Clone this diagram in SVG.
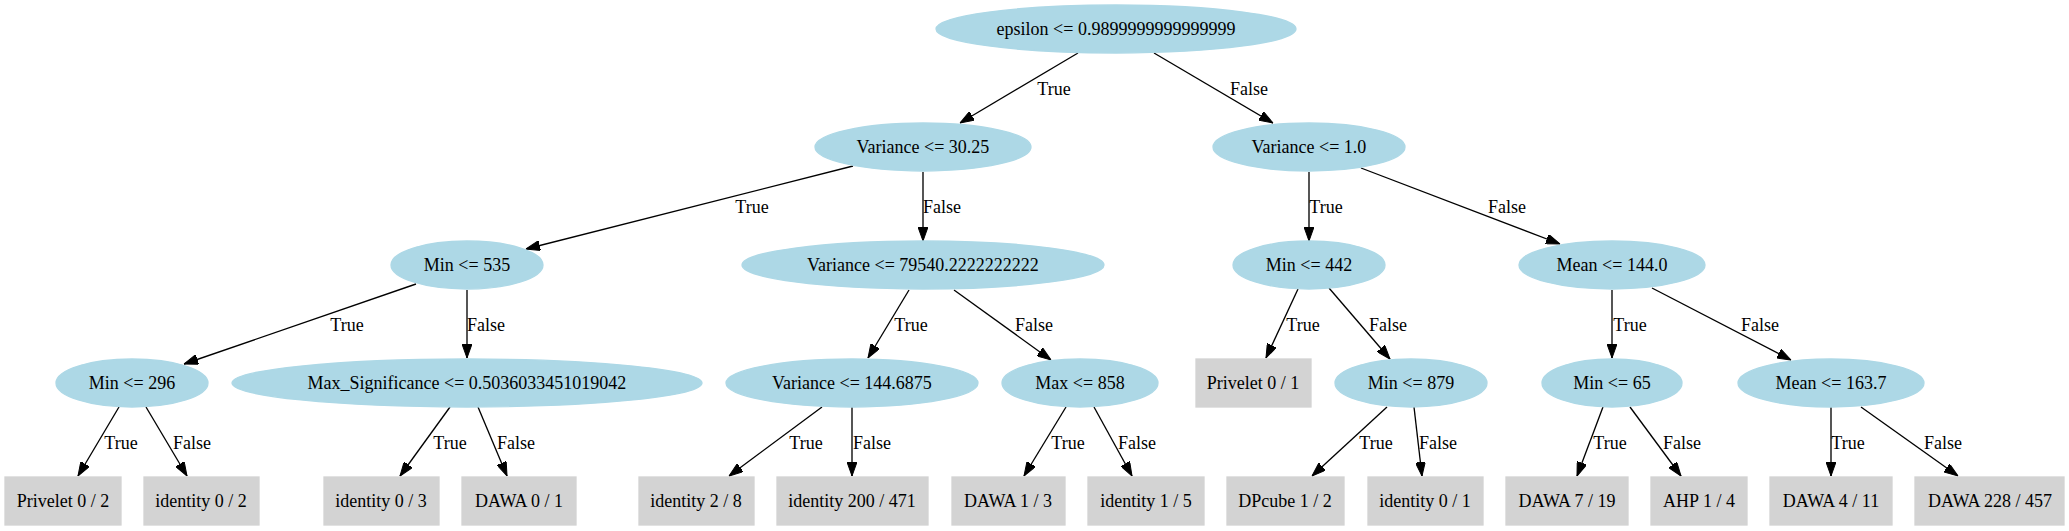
<svg xmlns="http://www.w3.org/2000/svg" width="2069" height="531" viewBox="0 0 2069 531">
<style>
.n ellipse{fill:#add8e6;stroke:#add8e6;stroke-width:1.3}
.n rect{fill:#d3d3d3;stroke:#d3d3d3;stroke-width:1.3}
text{font-family:"Liberation Serif","Times New Roman",serif;font-size:18px;fill:#000;text-anchor:middle}
.e path{fill:none;stroke:#000;stroke-width:1.33;marker-end:url(#ah)}
</style>
<defs>
<marker id="ah" markerUnits="userSpaceOnUse" viewBox="0 0 14 10" refX="14" refY="5" markerWidth="14" markerHeight="10" orient="auto">
<path d="M0,0 L14,5 L0,10 z" fill="#000" stroke="#000" stroke-width="1"/>
</marker>
</defs>
<rect width="2069" height="531" fill="#fff"/>
<g id="edges" class="e">
<path d="M1078,53 L960,123"/>
<path d="M1154,53 L1273,123"/>
<path d="M853,166 L526,249"/>
<path d="M923,172 L923,241"/>
<path d="M1309,172 L1309,241"/>
<path d="M1361,168 L1560,244"/>
<path d="M416,284 L184,364"/>
<path d="M467,290 L467,358"/>
<path d="M909,290 L868,358"/>
<path d="M954,290 L1051,360"/>
<path d="M1298,289 L1266,358"/>
<path d="M1329,288 L1390,359"/>
<path d="M1612,290 L1612,358"/>
<path d="M1652,288 L1791,360"/>
<path d="M119,407 L78,476"/>
<path d="M146,407 L187,476"/>
<path d="M450,407 L400,476"/>
<path d="M478,407 L507,476"/>
<path d="M822,407 L729,476"/>
<path d="M852,407 L852,476"/>
<path d="M1066,407 L1024,476"/>
<path d="M1094,407 L1132,476"/>
<path d="M1387,407 L1312,476"/>
<path d="M1414,407 L1422,476"/>
<path d="M1603,407 L1577,476"/>
<path d="M1630,407 L1681,476"/>
<path d="M1831,407 L1831,476"/>
<path d="M1861,407 L1958,476"/>
</g>
<g id="edge-labels">
<text x="1054" y="95">True</text>
<text x="1249" y="95">False</text>
<text x="752" y="213">True</text>
<text x="942" y="213">False</text>
<text x="1326" y="213">True</text>
<text x="1507" y="213">False</text>
<text x="347" y="331">True</text>
<text x="486" y="331">False</text>
<text x="911" y="331">True</text>
<text x="1034" y="331">False</text>
<text x="1303" y="331">True</text>
<text x="1388" y="331">False</text>
<text x="1630" y="331">True</text>
<text x="1760" y="331">False</text>
<text x="121" y="449">True</text>
<text x="192" y="449">False</text>
<text x="450" y="449">True</text>
<text x="516" y="449">False</text>
<text x="806" y="449">True</text>
<text x="872" y="449">False</text>
<text x="1068" y="449">True</text>
<text x="1137" y="449">False</text>
<text x="1376" y="449">True</text>
<text x="1438" y="449">False</text>
<text x="1610" y="449">True</text>
<text x="1682" y="449">False</text>
<text x="1848" y="449">True</text>
<text x="1943" y="449">False</text>
</g>
<g id="n0" class="n"><ellipse cx="1116" cy="29" rx="180" ry="24"/><text x="1116" y="35">epsilon &lt;= 0.9899999999999999</text></g>
<g id="n1" class="n"><ellipse cx="923" cy="147" rx="108" ry="24"/><text x="923" y="153">Variance &lt;= 30.25</text></g>
<g id="n2" class="n"><ellipse cx="1309" cy="147" rx="96" ry="24"/><text x="1309" y="153">Variance &lt;= 1.0</text></g>
<g id="n3" class="n"><ellipse cx="467" cy="265" rx="76" ry="24"/><text x="467" y="271">Min &lt;= 535</text></g>
<g id="n4" class="n"><ellipse cx="923" cy="265" rx="181" ry="24"/><text x="923" y="271">Variance &lt;= 79540.2222222222</text></g>
<g id="n5" class="n"><ellipse cx="1309" cy="265" rx="76" ry="24"/><text x="1309" y="271">Min &lt;= 442</text></g>
<g id="n6" class="n"><ellipse cx="1612" cy="265" rx="93" ry="24"/><text x="1612" y="271">Mean &lt;= 144.0</text></g>
<g id="n7" class="n"><ellipse cx="132" cy="383" rx="76" ry="24"/><text x="132" y="389">Min &lt;= 296</text></g>
<g id="n8" class="n"><ellipse cx="467" cy="383" rx="235" ry="24"/><text x="467" y="389">Max_Significance &lt;= 0.5036033451019042</text></g>
<g id="n9" class="n"><ellipse cx="852" cy="383" rx="126" ry="24"/><text x="852" y="389">Variance &lt;= 144.6875</text></g>
<g id="n10" class="n"><ellipse cx="1080" cy="383" rx="78" ry="24"/><text x="1080" y="389">Max &lt;= 858</text></g>
<g id="n11" class="n"><rect x="1196" y="359" width="115" height="48"/><text x="1253" y="389">Privelet 0 / 1</text></g>
<g id="n12" class="n"><ellipse cx="1411" cy="383" rx="76" ry="24"/><text x="1411" y="389">Min &lt;= 879</text></g>
<g id="n13" class="n"><ellipse cx="1612" cy="383" rx="70" ry="24"/><text x="1612" y="389">Min &lt;= 65</text></g>
<g id="n14" class="n"><ellipse cx="1831" cy="383" rx="93" ry="24"/><text x="1831" y="389">Mean &lt;= 163.7</text></g>
<g id="n15" class="n"><rect x="5" y="477" width="116" height="48"/><text x="63" y="507">Privelet 0 / 2</text></g>
<g id="n16" class="n"><rect x="144" y="477" width="115" height="48"/><text x="201" y="507">identity 0 / 2</text></g>
<g id="n17" class="n"><rect x="324" y="477" width="115" height="48"/><text x="381" y="507">identity 0 / 3</text></g>
<g id="n18" class="n"><rect x="462" y="477" width="114" height="48"/><text x="519" y="507">DAWA 0 / 1</text></g>
<g id="n19" class="n"><rect x="639" y="477" width="115" height="48"/><text x="696" y="507">identity 2 / 8</text></g>
<g id="n20" class="n"><rect x="777" y="477" width="151" height="48"/><text x="852" y="507">identity 200 / 471</text></g>
<g id="n21" class="n"><rect x="952" y="477" width="113" height="48"/><text x="1008" y="507">DAWA 1 / 3</text></g>
<g id="n22" class="n"><rect x="1088" y="477" width="116" height="48"/><text x="1146" y="507">identity 1 / 5</text></g>
<g id="n23" class="n"><rect x="1227" y="477" width="117" height="48"/><text x="1285" y="507">DPcube 1 / 2</text></g>
<g id="n24" class="n"><rect x="1368" y="477" width="115" height="48"/><text x="1425" y="507">identity 0 / 1</text></g>
<g id="n25" class="n"><rect x="1506" y="477" width="122" height="48"/><text x="1567" y="507">DAWA 7 / 19</text></g>
<g id="n26" class="n"><rect x="1651" y="477" width="96" height="48"/><text x="1699" y="507">AHP 1 / 4</text></g>
<g id="n27" class="n"><rect x="1770" y="477" width="122" height="48"/><text x="1831" y="507">DAWA 4 / 11</text></g>
<g id="n28" class="n"><rect x="1915" y="477" width="149" height="48"/><text x="1990" y="507">DAWA 228 / 457</text></g>
</svg>
